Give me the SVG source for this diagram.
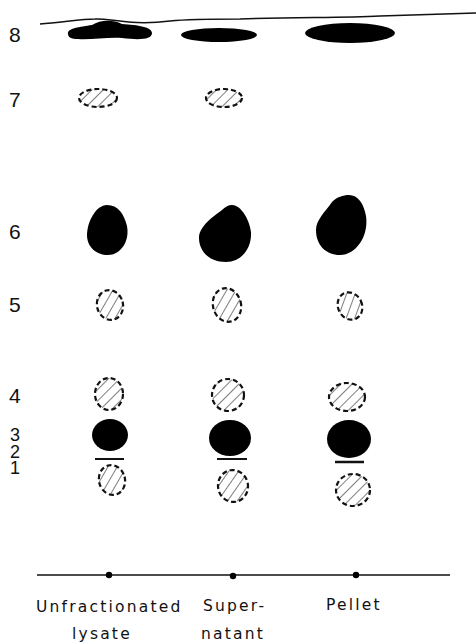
<svg xmlns="http://www.w3.org/2000/svg" width="476" height="642" viewBox="0 0 476 642">
<defs>
<style>
.num{font-family:"Liberation Sans","DejaVu Sans",sans-serif;font-size:21px;fill:#111}
.sm{font-size:18px}
.lab{font-family:"DejaVu Sans","Liberation Sans",sans-serif;font-size:15.5px;fill:#111;letter-spacing:2.2px}
.hatch{fill:url(#h);stroke:#111;stroke-width:2.2;stroke-dasharray:5 3}
.solid{fill:#000}
</style>
<pattern id="h" patternUnits="userSpaceOnUse" width="8" height="8" patternTransform="rotate(45)">
<line x1="0" y1="0" x2="0" y2="8" stroke="#111" stroke-width="1.1"/>
</pattern>
</defs>
<rect width="476" height="642" fill="#fff"/>
<g id="front">
<path d="M40,24 C60,23 80,19 95,19 C110,18 130,26 170,21 C190,19 215,19 240,19 C300,17 340,18 380,16 C420,15 450,14 476,13" fill="none" stroke="#111" stroke-width="1.5"/>
</g>
<g id="labels">
<text class="num" x="9" y="42">8</text>
<text class="num" x="9" y="107">7</text>
<text class="num" x="9" y="239">6</text>
<text class="num" x="9" y="312">5</text>
<text class="num" x="9" y="403">4</text>
<text class="num sm" x="10" y="441">3</text>
<text class="num sm" x="10" y="458">2</text>
<text class="num sm" x="10" y="474">1</text>
</g>
<g id="spot8">
<path class="solid" d="M68,34 C67,28 80,27 92,25 C100,20 112,19 122,24 C138,25 152,27 152,33 C152,40 138,40 122,38 C108,37 90,40 78,39 C71,39 68,37 68,34 Z"/>
<ellipse class="solid" cx="219" cy="35" rx="38" ry="7"/>
<ellipse class="solid" cx="350" cy="33" rx="45" ry="10"/>
</g>
<g id="spot7">
<ellipse class="hatch" cx="98" cy="98" rx="19" ry="9"/>
<ellipse class="hatch" cx="224" cy="98" rx="18" ry="9"/>
</g>
<g id="spot6">
<path class="solid" d="M107,205 C118,205 124,214 127,226 C130,242 120,255 108,255 C96,255 87,247 87,235 C87,222 96,205 107,205 Z"/>
<path class="solid" d="M232,205 C242,205 250,222 251,232 C252,250 240,262 226,262 C208,262 199,250 199,238 C199,226 214,216 222,210 C225,207 228,205 232,205 Z"/>
<path class="solid" d="M349,195 C358,195 364,204 366,216 C369,236 356,255 340,255 C326,255 316,245 316,230 C316,220 325,212 332,202 C337,197 343,195 349,195 Z"/>
</g>
<g id="spot5">
<ellipse class="hatch" cx="110" cy="305" rx="13" ry="15" transform="rotate(-15 110 305)"/>
<ellipse class="hatch" cx="227" cy="305" rx="14" ry="17" transform="rotate(-15 227 305)"/>
<ellipse class="hatch" cx="350" cy="306" rx="12" ry="14" transform="rotate(-25 350 306)"/>
</g>
<g id="spot4">
<ellipse class="hatch" cx="109" cy="394" rx="14" ry="16"/>
<ellipse class="hatch" cx="228" cy="395" rx="16" ry="16"/>
<ellipse class="hatch" cx="347" cy="397" rx="18" ry="14"/>
</g>
<g id="spot3">
<ellipse class="solid" cx="110" cy="435" rx="18" ry="16"/>
<ellipse class="solid" cx="230" cy="438" rx="21" ry="18"/>
<ellipse class="solid" cx="349" cy="439" rx="22" ry="19"/>
</g>
<g id="spot2">
<line x1="95" y1="459" x2="124" y2="459" stroke="#111" stroke-width="2"/>
<line x1="217" y1="459" x2="247" y2="459" stroke="#111" stroke-width="2"/>
<line x1="335" y1="462" x2="364" y2="462" stroke="#111" stroke-width="2.5"/>
</g>
<g id="spot1">
<ellipse class="hatch" cx="112" cy="480" rx="13" ry="15" transform="rotate(-15 112 480)"/>
<ellipse class="hatch" cx="233" cy="486" rx="15" ry="16" transform="rotate(-10 233 486)"/>
<ellipse class="hatch" cx="353" cy="490" rx="17" ry="16"/>
</g>
<g id="connectors">
<line x1="37" y1="575" x2="450" y2="575" stroke="#111" stroke-width="1.5"/>
<circle cx="109" cy="575" r="3.2" fill="#000"/>
<circle cx="233" cy="576" r="3.2" fill="#000"/>
<circle cx="356" cy="575" r="3.2" fill="#000"/>
</g>
<g id="lanes">
<text class="lab" x="36" y="612">Unfractionated</text>
<text class="lab" x="72" y="639">lysate</text>
<text class="lab" x="203" y="611">Super-</text>
<text class="lab" x="201" y="639">natant</text>
<text class="lab" x="326" y="610">Pellet</text>
</g>
</svg>
